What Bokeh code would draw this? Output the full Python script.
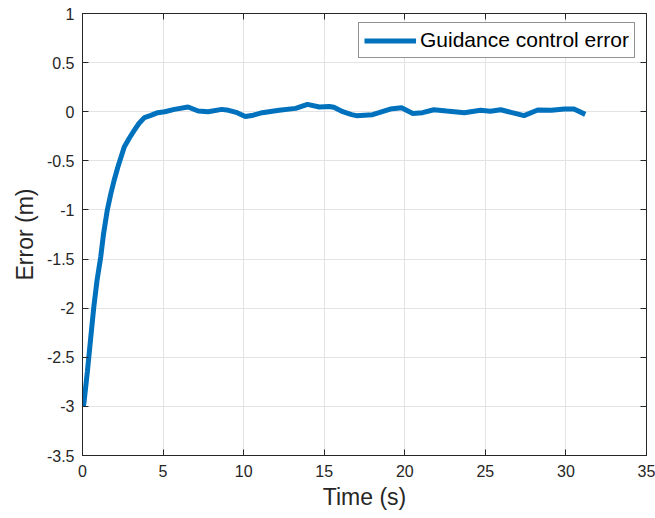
from bokeh.plotting import figure
from bokeh.models import LinearAxis, Range1d, FixedTicker, Legend, LegendItem
from bokeh.embed import file_html
from bokeh.resources import INLINE

time_s = [0.05, 0.1, 0.3, 0.5, 0.7, 0.9, 1.13, 1.3, 1.54, 1.75, 1.96, 2.2, 2.59, 2.9, 3.21, 3.5, 3.84, 4.2,
          4.67, 5.1, 5.7, 6.55, 7.18, 7.8, 8.64, 9.06, 9.6, 10.1, 10.6, 11.15, 12.2, 13.23, 13.96,
          14.7, 15.3, 15.6, 16.15, 16.7, 17.0, 17.5, 18.0, 18.4, 19.1, 19.8, 20.5, 21.1, 21.8, 22.6,
          23.7, 24.7, 25.3, 25.96, 26.6, 27.4, 28.25, 29.1, 29.9, 30.5, 31.2]
error_m = [-3.0, -2.95, -2.65, -2.32, -1.99, -1.72, -1.48, -1.25, -1.0, -0.84, -0.70, -0.56, -0.36, -0.27, -0.19,
           -0.12, -0.06, -0.04, -0.01, 0.0, 0.024, 0.048, 0.007, 0.0, 0.024, 0.014, -0.01, -0.048, -0.035, -0.01,
           0.014, 0.034, 0.075, 0.048, 0.054, 0.045, 0.0, -0.03, -0.04, -0.035, -0.03, -0.01, 0.027, 0.04, -0.017,
           -0.01, 0.02, 0.007, -0.01, 0.014, 0.005, 0.02, -0.007, -0.04, 0.017, 0.014, 0.027, 0.027, -0.027]

x_ticks = [0, 5, 10, 15, 20, 25, 30, 35]
y_ticks = [-3.5, -3, -2.5, -2, -1.5, -1, -0.5, 0, 0.5, 1]
y_labels = {-3.5: "-3.5", -3: "-3", -2.5: "-2.5", -2: "-2", -1.5: "-1.5", -1: "-1", -0.5: "-0.5",
            0: "0", 0.5: "0.5", 1: "1"}

FONT = "Liberation Sans"
AX = "#262626"

p = figure(width=655, height=518, output_backend="svg", toolbar_location=None,
           x_range=Range1d(0, 35), y_range=Range1d(-3.5, 1),
           min_border_left=82, min_border_right=9, min_border_top=13, min_border_bottom=63)
p.background_fill_color = "white"
p.border_fill_color = "white"
p.outline_line_color = AX
p.outline_line_width = 1

r = p.line(time_s, error_m, line_color="#0072BD", line_width=5)

for ax in (p.xaxis[0], p.yaxis[0]):
    ax.axis_line_color = AX
    ax.major_tick_line_color = AX
    ax.major_tick_in = 6
    ax.major_tick_out = 0
    ax.minor_tick_line_color = None
    ax.major_label_text_font = FONT
    ax.major_label_text_font_size = "16px"
    ax.major_label_text_color = AX
    ax.axis_label_text_font = FONT
    ax.axis_label_text_font_size = "23px"
    ax.axis_label_text_font_style = "normal"
    ax.axis_label_text_color = AX

p.xaxis[0].ticker = FixedTicker(ticks=x_ticks)
p.yaxis[0].ticker = FixedTicker(ticks=y_ticks)
p.yaxis[0].major_label_overrides = y_labels
p.xaxis[0].axis_label = "Time (s)"
p.yaxis[0].axis_label = "Error (m)"
p.xaxis[0].major_label_standoff = 9
p.yaxis[0].major_label_standoff = 8
p.xaxis[0].axis_label_standoff = 4
p.yaxis[0].axis_label_standoff = 6

blank_x = {t: "" for t in x_ticks}
blank_y = {t: "" for t in y_ticks}
top = LinearAxis(ticker=FixedTicker(ticks=x_ticks), major_label_overrides=blank_x,
                 major_label_standoff=0, major_tick_in=6, major_tick_out=0,
                 minor_tick_line_color=None, axis_line_color=AX, major_tick_line_color=AX)
right = LinearAxis(ticker=FixedTicker(ticks=y_ticks), major_label_overrides=blank_y,
                   major_label_standoff=0, major_tick_in=6, major_tick_out=0,
                   minor_tick_line_color=None, axis_line_color=AX, major_tick_line_color=AX)
p.add_layout(top, "above")
p.add_layout(right, "right")

p.xgrid.ticker = FixedTicker(ticks=x_ticks)
p.ygrid.ticker = FixedTicker(ticks=y_ticks)
for g in (p.xgrid[0], p.ygrid[0]):
    g.grid_line_color = "#e3e3e3"
    g.grid_line_width = 1

legend = Legend(items=[LegendItem(label="Guidance control error", renderers=[r])],
                location=(276, 397), label_text_font=FONT, label_text_font_size="21px",
                label_text_color="black", border_line_color=AX, border_line_width=1,
                padding=5, glyph_width=52, glyph_height=23, label_height=23, label_standoff=4,
                margin=0, background_fill_alpha=1)
p.add_layout(legend, "center")

open("out.html", "w").write(file_html(p, INLINE))
